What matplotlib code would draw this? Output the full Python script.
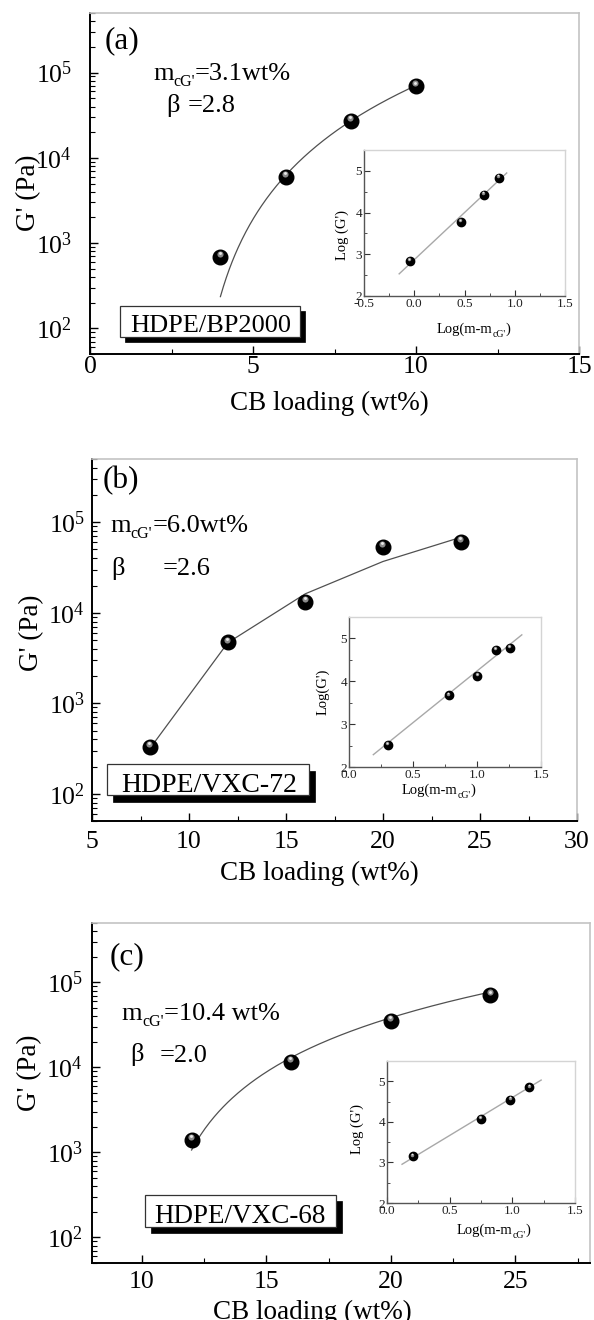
import numpy as np
import matplotlib
matplotlib.use('Agg')
import matplotlib.pyplot as plt
from matplotlib.transforms import ScaledTranslation
from matplotlib.patches import Rectangle
from matplotlib.ticker import (LogLocator, MultipleLocator, NullFormatter,
                               LogFormatterMathtext, FuncFormatter)

plt.rcParams['font.family'] = ['Liberation Serif', 'DejaVu Serif']
plt.rcParams['mathtext.fontset'] = 'custom'
plt.rcParams['mathtext.rm'] = 'Liberation Serif'
plt.rcParams['mathtext.it'] = 'Liberation Serif:italic'
plt.rcParams['mathtext.bf'] = 'Liberation Serif:bold'

# ---------------- data ----------------
# (a) HDPE/BP2000
a_loading = [4, 6, 8, 10]
a_G = [690, 6000, 27000, 69000]
a_mc, a_beta, a_logA = 3.1, 2.8, 2.50          # power-law fit  G = A (m - mc)^beta
a_inset_slope, a_inset_icpt = 2.26, 2.87
a_inset_xrange = [-0.15, 0.92]

# (b) HDPE/VXC-72
b_loading = [8, 12, 16, 20, 24]
b_G = [330, 4700, 13200, 53700, 60300]
b_mc, b_beta, b_logA = 6.0, 2.44, 1.77
b_inset_slope, b_inset_icpt = 2.41, 1.83
b_inset_xrange = [0.19, 1.35]

# (c) HDPE/VXC-68
c_loading = [12, 16, 20, 24]
c_G = [1410, 11700, 35500, 70800]
c_mc, c_beta, c_logA = 10.4, 2.0, 2.62
c_inset_slope, c_inset_icpt = 1.87, 2.73
c_inset_xrange = [0.12, 1.23]

W, H = 594, 1320
fig = plt.figure(figsize=(W / 100, H / 100), dpi=100)


def rect(l, t, r, b):
    return [l / W, 1 - b / H, (r - l) / W, (b - t) / H]


def fx(px):
    return px / W


def fy(py):
    return 1 - py / H


def spheres(ax, x, y, ms, z=4):
    ax.plot(x, y, 'o', ms=ms, color='black', mec='black', zorder=z, clip_on=False)
    off = ScaledTranslation(-ms * 0.05 / 72, ms * 0.20 / 72, fig.dpi_scale_trans)
    ax.plot(x, y, 'o', ms=ms * 0.42, color='#8a8a8a', mec='none', zorder=z + 1,
            transform=ax.transData + off, clip_on=False)
    off2 = ScaledTranslation(-ms * 0.05 / 72, ms * 0.25 / 72, fig.dpi_scale_trans)
    ax.plot(x, y, 'o', ms=ms * 0.20, color='#e8e8e8', mec='none', zorder=z + 2,
            transform=ax.transData + off2, clip_on=False)


def chain(ax, x, y, parts, transform, zorder=6):
    """parts: list of (text, fontsize, dy_points)"""
    first = ax.text(x, y, parts[0][0], fontsize=parts[0][1], transform=transform,
                    ha='left', va='baseline', zorder=zorder, clip_on=False)
    prev = first
    for txt, fs, dy in parts[1:]:
        prev = ax.annotate(txt, xy=(1, 0), xycoords=(prev, first),
                           xytext=(0, dy), textcoords='offset points',
                           fontsize=fs, ha='left', va='bottom', zorder=zorder,
                           annotation_clip=False)
    return first


def style_main(ax, xlim, xmaj, xmin, ypad, xpad):
    ax.set_yscale('log')
    ax.set_ylim(50, 5e5)
    ax.set_xlim(*xlim)
    ax.xaxis.set_major_locator(MultipleLocator(xmaj))
    ax.xaxis.set_minor_locator(MultipleLocator(xmin))
    ax.xaxis.set_major_formatter(FuncFormatter(lambda v, p: f"{v:g}"))
    ax.yaxis.set_major_locator(LogLocator(base=10, numticks=12))
    ax.yaxis.set_minor_locator(LogLocator(base=10, subs=np.arange(2, 10), numticks=30))
    ax.yaxis.set_major_formatter(LogFormatterMathtext())
    ax.yaxis.set_minor_formatter(NullFormatter())
    ax.tick_params(which='both', direction='in', top=False, right=False)
    ax.tick_params(which='major', length=6, width=1.0, labelsize=18.5)
    ax.tick_params(which='minor', length=3.5, width=0.8)
    ax.tick_params(axis='y', which='both', pad=ypad)
    ax.tick_params(axis='x', which='both', pad=xpad)
    for s in ['left', 'bottom']:
        ax.spines[s].set_linewidth(1.4)
        ax.spines[s].set_color('black')
    for s in ['top', 'right']:
        ax.spines[s].set_linewidth(1.2)
        ax.spines[s].set_color('#c4c4c4')


def style_inset(ax, xlim):
    ax.set_xlim(*xlim)
    ax.set_ylim(2, 5.5)
    ax.xaxis.set_major_locator(MultipleLocator(0.5))
    ax.xaxis.set_minor_locator(MultipleLocator(0.25))
    ax.xaxis.set_major_formatter(FuncFormatter(lambda v, p: f"{v:.1f}"))
    ax.yaxis.set_major_locator(MultipleLocator(1))
    ax.yaxis.set_minor_locator(MultipleLocator(0.5))
    ax.yaxis.set_major_formatter(FuncFormatter(lambda v, p: f"{v:g}"))
    ax.tick_params(which='both', direction='in', top=False, right=False,
                   colors='#333333', labelcolor='#222222')
    ax.tick_params(which='major', length=4, width=0.8, labelsize=9.5, pad=1.5)
    ax.tick_params(which='minor', length=2.2, width=0.6)
    for s in ['left', 'bottom']:
        ax.spines[s].set_linewidth(1.0)
        ax.spines[s].set_color('#555555')
    for s in ['top', 'right']:
        ax.spines[s].set_linewidth(1.0)
        ax.spines[s].set_color('#d4d4d4')


def shadow_box(l, t, r, b, dx, dy, text, tx, tbase, fs):
    fig.add_artist(Rectangle((fx(l + dx), fy(b + dy)), (r - l) / W, (b - t) / H,
                             transform=fig.transFigure, facecolor='black',
                             edgecolor='black', lw=0.5, zorder=3))
    fig.add_artist(Rectangle((fx(l), fy(b)), (r - l) / W, (b - t) / H,
                             transform=fig.transFigure, facecolor='white',
                             edgecolor='#333333', lw=0.9, zorder=4))
    fig.text(fx(tx), fy(tbase), text, ha='center', va='baseline', fontsize=fs,
             zorder=5)


panels = [
    dict(main=(90, 13, 579, 354), inset=(364, 150, 565, 296),
         x=a_loading, G=a_G, mc=a_mc, beta=a_beta, logA=a_logA, smooth=True,
         islope=a_inset_slope, iicpt=a_inset_icpt, ixr=a_inset_xrange, ixlim=(-0.5, 1.5),
         xlim=(0, 15), ypad=13, xpad=1.5, xlab=(0.489, -0.108), ylab=(-0.100, 0.472),
         letter='(a)', letter_pos=(105, 41), box_fs=19,
         m_pos=(153, 80), m_val="=3.1wt%", beta_parts=[("β", 166), ("=2.8", 188)],
         beta_y=112,
         box=(120, 306, 300, 337, 5, 5, "HDPE/BP2000", 210.5, 331.5),
         iylab="Log (G')", iylab_pos=(-0.075, 0.42), ixlab_pos=(0.363, -0.255)),
    dict(main=(92, 459, 577, 821), inset=(349, 617, 541, 767),
         x=b_loading, G=b_G, mc=b_mc, beta=b_beta, logA=b_logA, smooth=False,
         islope=b_inset_slope, iicpt=b_inset_icpt, ixr=b_inset_xrange, ixlim=(0, 1.5),
         xlim=(5, 30), ypad=5, xpad=7, xlab=(0.469, -0.11), ylab=(-0.099, 0.519),
         letter='(b)', letter_pos=(103, 481), box_fs=20,
         m_pos=(110, 532.5), m_val="=6.0wt%", beta_parts=[("β", 111.5), ("=2.6", 163)],
         beta_y=575,
         box=(107, 764, 309, 795, 6, 7, "HDPE/VXC-72", 209, 791.5),
         iylab="Log(G')", iylab_pos=(-0.10, 0.50), ixlab_pos=(0.274, -0.18)),
    dict(main=(92, 923, 590, 1263), inset=(387, 1061, 575, 1203),
         x=c_loading, G=c_G, mc=c_mc, beta=c_beta, logA=c_logA, smooth=True,
         islope=c_inset_slope, iicpt=c_inset_icpt, ixr=c_inset_xrange, ixlim=(0, 1.5),
         xlim=(8, 28), ypad=6.5, xpad=6, xlab=(0.443, -0.109), ylab=(-0.100, 0.559),
         letter='(c)', letter_pos=(110, 957), box_fs=19.5,
         m_pos=(121.5, 1020), m_val="=10.4 wt%", beta_parts=[("β", 130), ("=2.0", 160)],
         beta_y=1061.5,
         box=(145, 1195, 336, 1227, 6, 6, "HDPE/VXC-68", 240, 1223),
         iylab="Log (G')", iylab_pos=(-0.12, 0.52), ixlab_pos=(0.37, -0.218)),
]

for P in panels:
    ax = fig.add_axes(rect(*P['main']))
    style_main(ax, P['xlim'], 5, 2.5, P['ypad'], P['xpad'])
    x = np.array(P['x'], dtype=float)
    G = np.array(P['G'], dtype=float)
    # fit curve
    if P['smooth']:
        xf = np.linspace(x.min(), x.max(), 200)
    else:
        xf = x
    Gf = 10 ** (P['logA'] + P['beta'] * np.log10(xf - P['mc']))
    ax.plot(xf, Gf, '-', color='#505050', lw=0.9, zorder=2)
    spheres(ax, x, G, 10.5)
    ax.set_xlabel("CB loading (wt%)", fontsize=19.5)
    ax.xaxis.set_label_coords(*P['xlab'])
    ax.set_ylabel("G' (Pa)", fontsize=19.5)
    ax.yaxis.set_label_coords(*P['ylab'])

    # annotations
    fig.text(fx(P['letter_pos'][0]), fy(P['letter_pos'][1]), P['letter'], fontsize=22.5,
             ha='left', va='center')
    chain(ax, fx(P['m_pos'][0]), fy(P['m_pos'][1]),
          [("m", 19, 0), ("cG'", 11.5, -3.5), (P['m_val'], 19, 0)],
          transform=fig.transFigure)
    for txt, px in P['beta_parts']:
        fig.text(fx(px), fy(P['beta_y']), txt, fontsize=19, ha='left', va='baseline')

    l, t, r, b, dx, dy, txt, tx, tb = P['box']
    shadow_box(l, t, r, b, dx, dy, txt, tx, tb, P['box_fs'])

    # inset
    axi = fig.add_axes(rect(*P['inset']))
    style_inset(axi, P['ixlim'])
    lx = np.log10(x - P['mc'])
    ly = np.log10(G)
    xr = np.array(P['ixr'])
    axi.plot(xr, P['iicpt'] + P['islope'] * xr, '-', color='#a8a8a8', lw=1.0, zorder=2)
    spheres(axi, lx, ly, 6.0)
    axi.set_ylabel(P['iylab'], fontsize=10.5)
    axi.yaxis.set_label_coords(*P['iylab_pos'])
    chain(axi, P['ixlab_pos'][0], P['ixlab_pos'][1],
          [("Log(m-m", 10.5, 0), ("cG'", 7, -2.0), (")", 10.5, 0)],
          transform=axi.transAxes)

fig.savefig('out.png', dpi=100)
